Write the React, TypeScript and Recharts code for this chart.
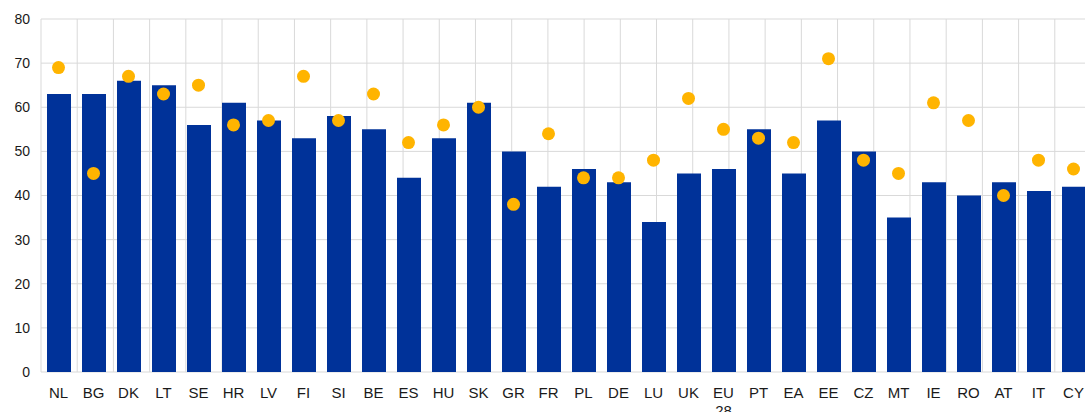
import React from "react";
import {
  ComposedChart,
  Bar,
  Line,
  XAxis,
  YAxis,
  CartesianGrid,
} from "recharts";

const countries = [
  "NL", "BG", "DK", "LT", "SE", "HR", "LV", "FI", "SI", "BE",
  "ES", "HU", "SK", "GR", "FR", "PL", "DE", "LU", "UK", "EU 28",
  "PT", "EA", "EE", "CZ", "MT", "IE", "RO", "AT", "IT", "CY",
];

const barValues = [
  63, 63, 66, 65, 56, 61, 57, 53, 58, 55,
  44, 53, 61, 50, 42, 46, 43, 34, 45, 46,
  55, 45, 57, 50, 35, 43, 40, 43, 41, 42,
];

const dotValues = [
  69, 45, 67, 63, 65, 56, 57, 67, 57, 63,
  52, 56, 60, 38, 54, 44, 44, 48, 62, 55,
  53, 52, 71, 48, 45, 61, 57, 40, 48, 46,
];

const yTicks = [0, 10, 20, 30, 40, 50, 60, 70, 80];
const gridTicks = countries.map((_, i) => i).concat(countries.length);

const COLORS = {
  bar: "#003299",
  dot: "#FFB400",
  grid: "#d9d9d9",
  text: "#1a1a1a",
};

const data = countries.map((name, i) => ({
  name,
  bar: barValues[i],
  dot: dotValues[i],
}));

const FONT = "'Liberation Sans', Arial, sans-serif";

// splits "EU 28" onto two lines like the original
function CategoryTick(props: any) {
  const { x, y, payload } = props;
  const lines = String(payload.value).split(" ");
  return (
    <text
      x={x}
      y={y}
      textAnchor="middle"
      fill={COLORS.text}
      fontSize={15}
      fontFamily={FONT}
    >
      {lines.map((l, i) => (
        <tspan key={i} x={x} dy={i === 0 ? 24 : 18}>
          {l}
        </tspan>
      ))}
    </text>
  );
}

export default function App() {
  return (
    <div
      style={{
        position: "absolute",
        left: 0,
        top: 0,
        width: 1085,
        height: 412,
        overflow: "hidden",
        background: "#fff",
      }}
    >
      <ComposedChart
        width={1095}
        height={412}
        data={data}
        margin={{ top: 19, right: 4, bottom: 0, left: 0 }}
        barCategoryGap={0}
      >
        <XAxis
          xAxisId="grid"
          type="number"
          domain={[0, countries.length]}
          ticks={gridTicks}
          hide
        />
        <CartesianGrid
          xAxisId="grid"
          stroke={COLORS.grid}
          strokeWidth={1}
        />
        <XAxis
          dataKey="name"
          axisLine={false}
          tickLine={false}
          interval={0}
          height={40}
          tickSize={0}
          tick={<CategoryTick />}
        />
        <YAxis
          domain={[0, 80]}
          ticks={yTicks}
          axisLine={false}
          tickLine={false}
          tickSize={0}
          tickMargin={11}
          width={41}
          tick={{ fontSize: 14, fill: COLORS.text, fontFamily: FONT }}
        />
        <Bar dataKey="bar" fill={COLORS.bar} barSize={24} isAnimationActive={false} />
        <Line
          dataKey="dot"
          stroke="none"
          strokeWidth={0}
          dot={{ r: 6.5, fill: COLORS.dot, stroke: "none" }}
          activeDot={false}
          isAnimationActive={false}
        />
      </ComposedChart>
    </div>
  );
}
